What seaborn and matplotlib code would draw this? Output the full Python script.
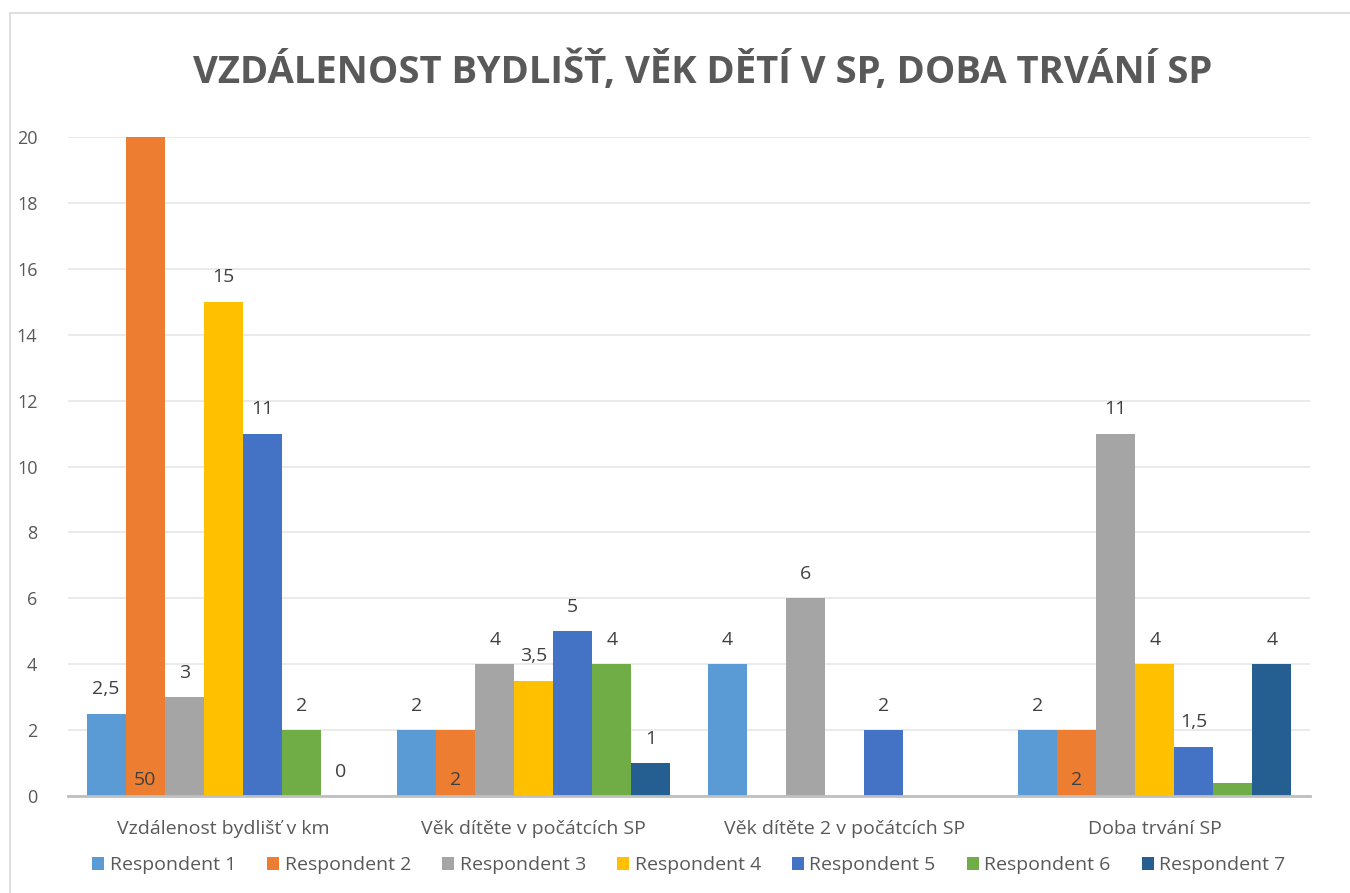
import matplotlib
matplotlib.use("Agg")
import matplotlib.pyplot as plt
import seaborn as sns
import pandas as pd
import numpy as np
from matplotlib.patches import Rectangle

# data (nan = no bar)
categories = ["Vzdálenost bydlišť v km", "Věk dítěte v počátcích SP",
              "Věk dítěte 2 v počátcích SP", "Doba trvání SP"]
respondents = ["Respondent 1", "Respondent 2", "Respondent 3", "Respondent 4",
               "Respondent 5", "Respondent 6", "Respondent 7"]
resp1 = [2.5, 2, 4, 2]
resp2 = [50, 2, np.nan, 2]
resp3 = [3, 4, 6, 11]
resp4 = [15, 3.5, np.nan, 4]
resp5 = [11, 5, 2, 1.5]
resp6 = [2, 4, np.nan, 0.4]
resp7 = [0, 1, np.nan, 4]
colors = ["#5B9BD5", "#ED7D31", "#A5A5A5", "#FFC000", "#4472C4", "#70AD47", "#255E91"]

series = [resp1, resp2, resp3, resp4, resp5, resp6, resp7]
rows = []
for r, vals in zip(respondents, series):
    for c, v in zip(categories, vals):
        rows.append({"kategorie": c, "respondent": r, "hodnota": v})
df = pd.DataFrame(rows)

sns.set_style("white")
plt.rcParams["font.family"] = ["Open Sans", "DejaVu Sans"]
txt = "#595959"

fig = plt.figure(figsize=(13.5, 8.93), dpi=100)
ax = fig.add_axes([68 / 1350, 1 - 796 / 893, (1310 - 68) / 1350, (796 - 137) / 893])

sns.barplot(data=df, x="kategorie", y="hodnota", hue="respondent",
            order=categories, hue_order=respondents, palette=colors,
            width=0.88, errorbar=None, saturation=1, linewidth=0, ax=ax, legend=True)

ax.set_ylim(0, 20)
ax.set_yticks(range(0, 21, 2))
ax.yaxis.grid(True, color="#E6E6E6", lw=1.2)
ax.set_axisbelow(True)
for s in ["left", "top", "right"]:
    ax.spines[s].set_visible(False)
ax.spines["bottom"].set_color("#BFBFBF")
ax.spines["bottom"].set_linewidth(2)
ax.tick_params(axis="y", length=0, colors=txt, labelsize=13, pad=22)
ax.tick_params(axis="x", length=0, colors=txt, labelsize=14, pad=17)
ax.set_xlabel("")
ax.set_ylabel("")

# value labels: respondent 2 inside at base, others above bar
for r, cont in zip(respondents, ax.containers):
    for bar in cont:
        h = bar.get_height()
        if np.isnan(h) or (r == "Respondent 6" and h < 1):
            continue
        lab = f"{h:g}".replace(".", ",")
        xc = bar.get_x() + bar.get_width() / 2
        if r == "Respondent 2":
            ax.text(xc, 0.2, lab, ha="center", va="bottom", fontsize=14, color="#404040")
        else:
            ax.annotate(lab, (xc, h), xytext=(0, 11), textcoords="offset points",
                        ha="center", va="bottom", fontsize=14, color="#404040")

handles, labels = ax.get_legend_handles_labels()
ax.legend(handles, labels, loc="upper center", bbox_to_anchor=(0.5, -0.065), ncol=7,
          frameon=False, fontsize=14, handlelength=0.6, handleheight=0.6,
          handletextpad=0.3, columnspacing=1.6, labelcolor=txt)

fig.text(703 / 1350, 1 - 72 / 893, "VZDÁLENOST BYDLIŠŤ, VĚK DĚTÍ V SP, DOBA TRVÁNÍ SP",
         ha="center", va="center", fontsize=27.5, fontweight="bold", color=txt)

fig.patches.append(Rectangle((10 / 1350, -0.01), 1.0, 1 - 13 / 893 + 0.01,
                             transform=fig.transFigure, fill=False,
                             edgecolor="#D9D9D9", lw=1.2))

fig.savefig("out.png", dpi=100)
